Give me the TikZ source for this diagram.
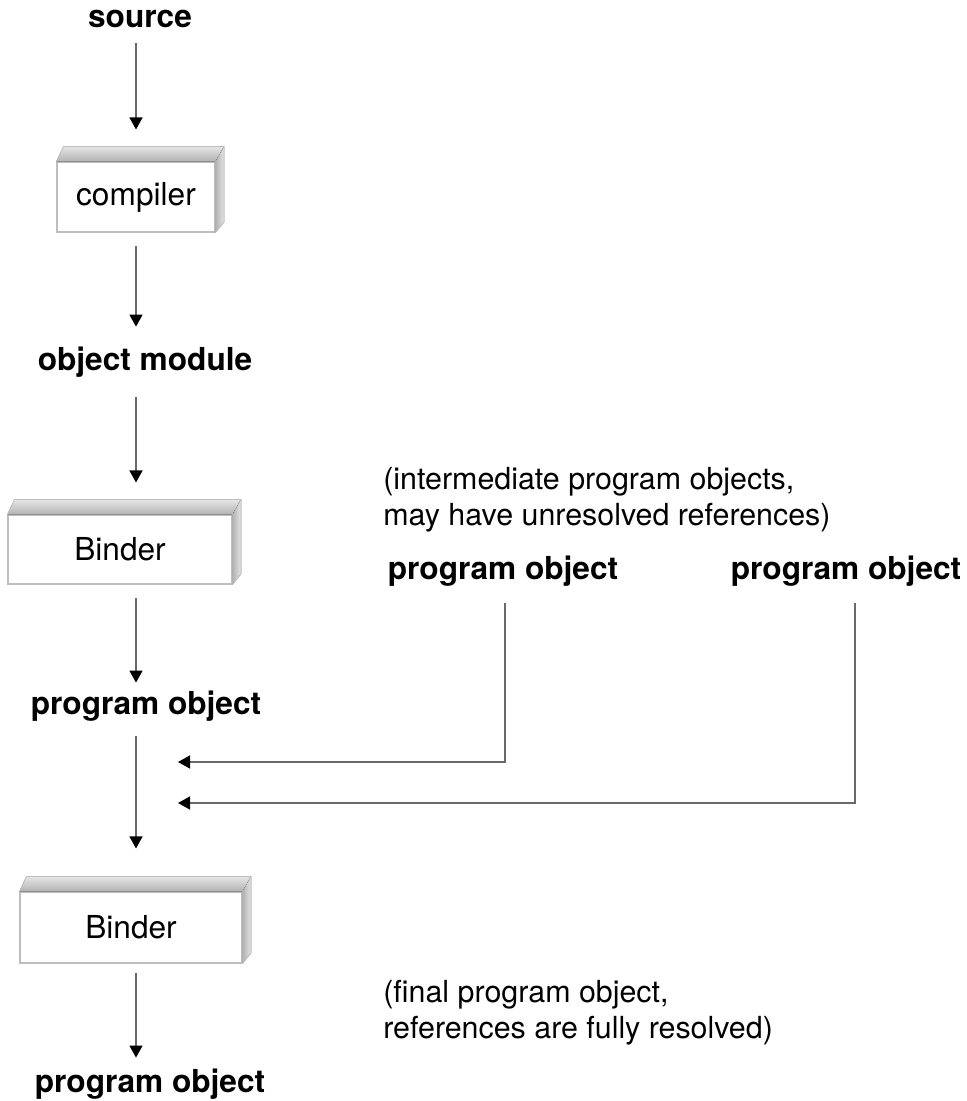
\documentclass[tikz,border=0pt]{standalone}
\usepackage{fontspec}
\setmainfont{TeX Gyre Heros}
\usepackage{tikz}
\usetikzlibrary{arrows.meta, positioning, calc}
\definecolor{linegray}{RGB}{105,105,105}
\definecolor{boxedge}{RGB}{190,190,190}

\begin{document}
\begin{tikzpicture}[
    font=\fontsize{18}{20.5}\selectfont,
    label/.style={inner sep=0pt, text height=12pt, text depth=4pt, font=\fontsize{18}{20.5}\selectfont\bfseries},
    note/.style={inner sep=0pt, align=left, anchor=west, font=\fontsize{17.3}{20.5}\selectfont},
    tool/.style={rectangle, draw=boxedge, fill=white, line width=0.6pt, inner sep=0pt},
    arrowstyle/.style={-{Triangle[length=0.24cm, width=0.26cm, color=black]}, draw=linegray, line width=0.8pt}
]
\useasboundingbox (0,0) rectangle (19.34,-22.02);

% Main flow (left column)
\coordinate (axis) at (2.72,0);
\node[label] (src) at (2.80,-0.40) {source};
\node[tool, minimum width=3.16cm, minimum height=1.40cm] (comp) at (2.72,-3.94) {compiler};
\node[label] (objmod) at (2.90,-7.26) {object module};
\node[tool, minimum width=4.48cm, minimum height=1.38cm] (bind1) at (2.40,-10.99) {Binder};
\node[label] (pobj) at (2.92,-14.14) {program object};
\node[tool, minimum width=4.44cm, minimum height=1.42cm] (bind2) at (2.62,-18.55) {Binder};
\node[label] (pfinal) at (3.00,-21.70) {program object};

% Intermediate program objects (right)
\node[note] (note1) at (7.66,-10.00) {(intermediate program objects,\\may have unresolved references)};
\node[label] (pobjA) at (10.06,-11.44) {program object};
\node[label] (pobjB) at (16.92,-11.44) {program object};
\node[note] (note2) at (7.66,-20.26) {(final program object,\\references are fully resolved)};

% 3D faces of the tool boxes
\foreach \b in {comp,bind1,bind2} {
  \fill[top color=gray!20, bottom color=gray!60] (\b.north west) -- ++(0.14,0.30) -- ([shift={(0.17,0.30)}]\b.north east) -- (\b.north east) -- cycle;
  \fill[left color=gray!60, right color=gray!20] (\b.north east) -- ++(0.17,0.30) -- ([shift={(0.17,0.21)}]\b.south east) -- (\b.south east) -- cycle;
  \draw[boxedge, line width=0.4pt] (\b.north west) -- ++(0.14,0.30) -- ([shift={(0.17,0.30)}]\b.north east) -- ([shift={(0.17,0.21)}]\b.south east) -- (\b.south east);
}

% Join points on the main line
\coordinate (joinA) at (2.72,-15.24);
\coordinate (joinB) at (2.72,-16.06);

% Arrows
\draw[arrowstyle, shorten <=0.18cm, shorten >=0.64cm] (src.south -| axis) -- (comp.north -| axis);
\draw[arrowstyle, shorten <=0.26cm, shorten >=0.44cm] (comp.south -| axis) -- (objmod.north -| axis);
\draw[arrowstyle, shorten <=0.40cm, shorten >=0.64cm] (objmod.south -| axis) -- (bind1.north -| axis);
\draw[arrowstyle, shorten <=0.26cm, shorten >=0.20cm] (bind1.south -| axis) -- (pobj.north -| axis);
\draw[arrowstyle, shorten <=0.30cm, shorten >=0.86cm] (pobj.south -| axis) -- (bind2.north -| axis);
\draw[arrowstyle, shorten <=0.18cm, shorten >=0.26cm] (bind2.south -| axis) -- (pfinal.north -| axis);

% Feed lines from the intermediate objects
\draw[arrowstyle, shorten <=0.34cm, shorten >=0.84cm] ([xshift=0.04cm]pobjA.south) |- (joinA);
\draw[arrowstyle, shorten <=0.34cm, shorten >=0.84cm] ([xshift=0.18cm]pobjB.south) |- (joinB);

\end{tikzpicture}
\end{document}
